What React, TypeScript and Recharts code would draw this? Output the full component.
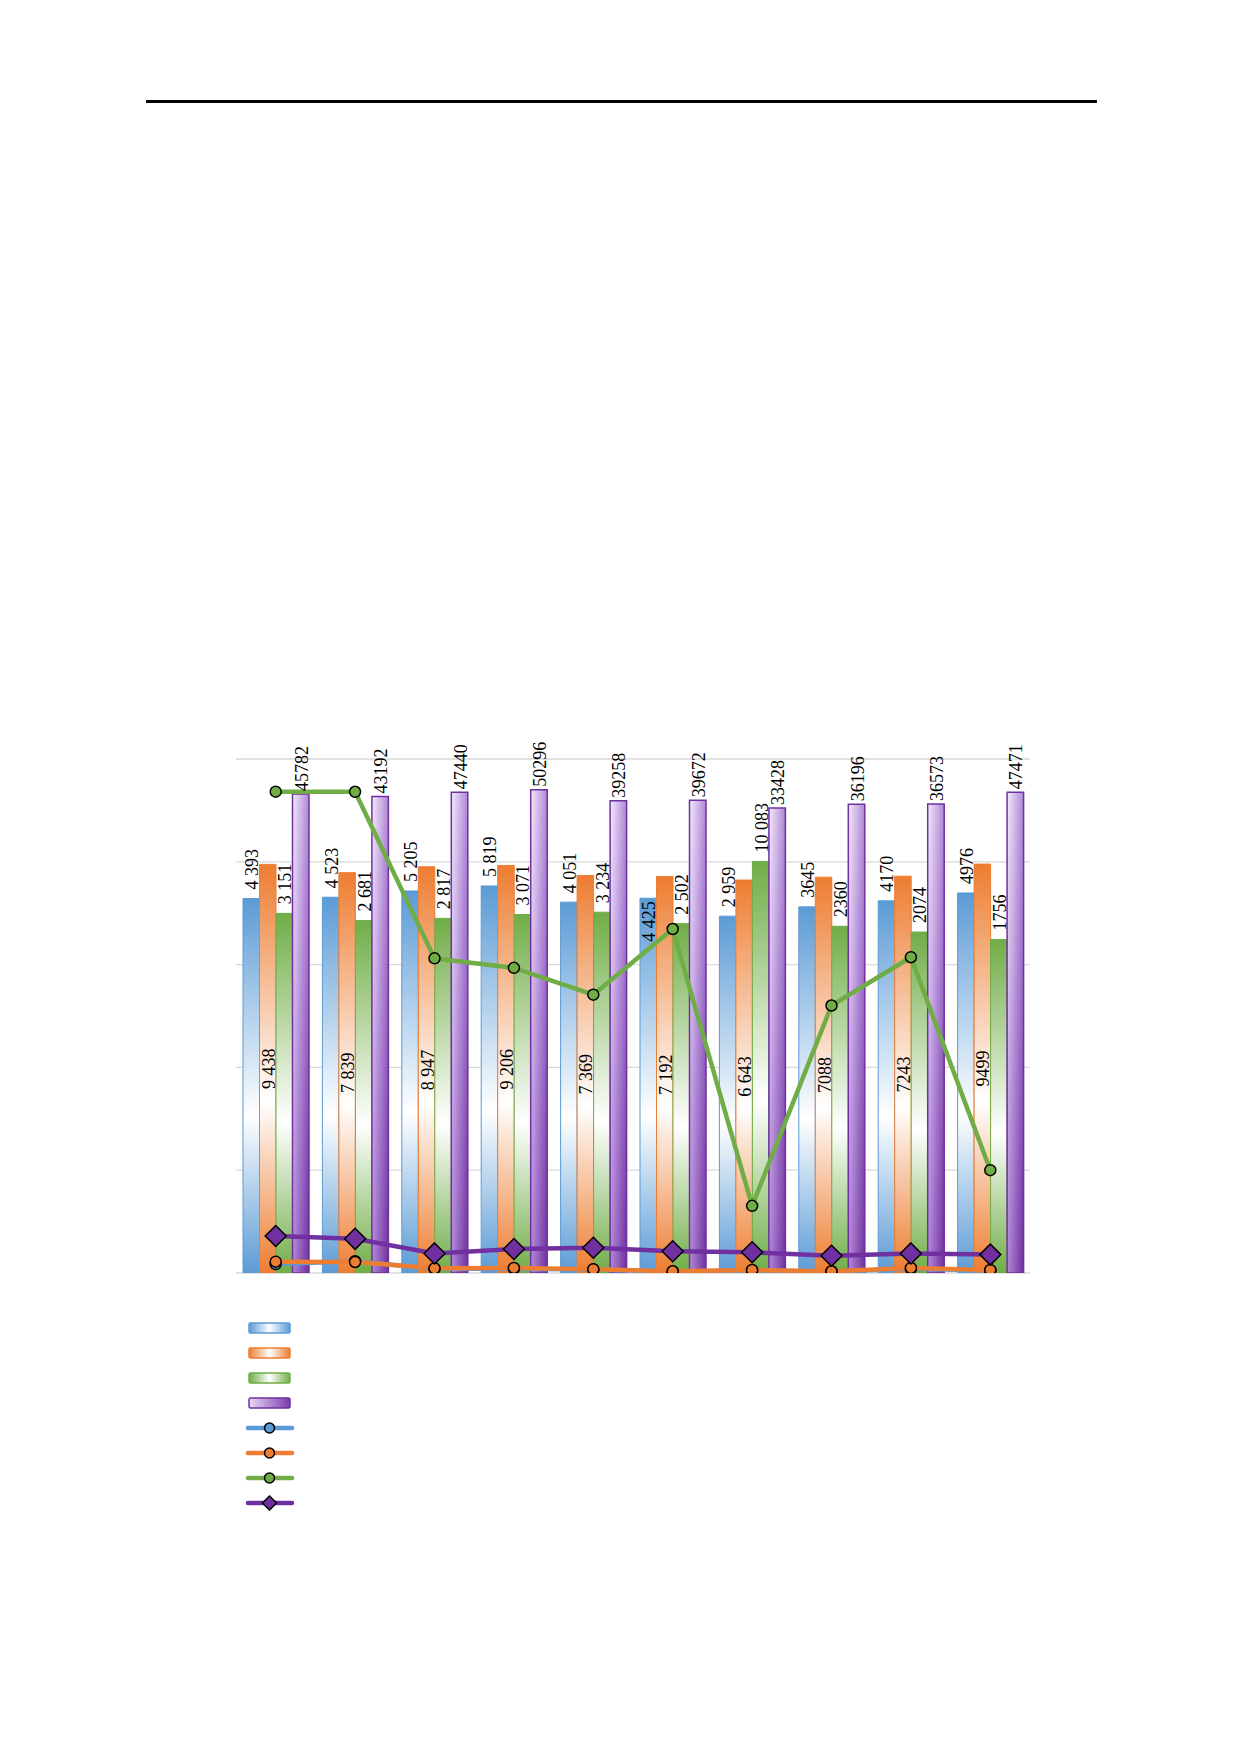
import React from 'react';
import { ComposedChart, Bar, Line, XAxis, YAxis, CartesianGrid, LabelList } from 'recharts';

const categories = ['1', '2', '3', '4', '5', '6', '7', '8', '9', '10'];

const blueBars = [4393, 4523, 5205, 5819, 4051, 4425, 2959, 3645, 4170, 4976];
const orangeBars = [9438, 7839, 8947, 9206, 7369, 7192, 6643, 7088, 7243, 9499];
const greenBars = [3151, 2681, 2817, 3071, 3234, 2502, 10083, 2360, 2074, 1756];
const purpleBars = [45782, 43192, 47440, 50296, 39258, 39672, 33428, 36196, 36573, 47471];

const blueLabels = ['4 393', '4 523', '5 205', '5 819', '4 051', '4 425', '2 959', '3645', '4170', '4976'];
const orangeLabels = ['9 438', '7 839', '8 947', '9 206', '7 369', '7 192', '6 643', '7088', '7243', '9499'];
const greenLabels = ['3 151', '2 681', '2 817', '3 071', '3 234', '2 502', '10 083', '2360', '2074', '1756'];
const purpleLabels = ['45782', '43192', '47440', '50296', '39258', '39672', '33428', '36196', '36573', '47471'];

const blueLine = [1.22, 1.3, 1.1, 1.1, 1.08, 1.03, 1.06, 1.03, 1.1, 1.06];
const orangeLine = [1.29, 1.28, 1.11, 1.12, 1.09, 1.04, 1.07, 1.04, 1.12, 1.07];
const greenLine = [48100, 48000, 1150, 930, 510, 2220, 4.5, 400, 1180, 10];
const purpleLine = [2.29, 2.15, 1.55, 1.71, 1.76, 1.63, 1.59, 1.47, 1.55, 1.51];

const yTicks = [1, 10, 100, 1000, 10000, 100000];

const data = categories.map((c, i) => ({
  cat: c,
  b1: blueBars[i],
  b2: orangeBars[i],
  b3: greenBars[i],
  b4: purpleBars[i],
  l1: blueLabels[i],
  l2: orangeLabels[i],
  l3: greenLabels[i],
  l4: purpleLabels[i],
  s1: blueLine[i],
  s2: orangeLine[i],
  s3: greenLine[i],
  s4: purpleLine[i],
}));

const BLUE = '#5B9BD5';
const ORANGE = '#ED7D31';
const GREEN = '#70AD47';
const PURPLE = '#7030A0';
const FONT = '"Liberation Serif", "Times New Roman", serif';
const FS = 18;

const makeTopLabel = (gap: number, insideIdx: number[] = []) => (props: any) => {
  const x = Number(props.x);
  const y = Number(props.y);
  const w = Number(props.width);
  const cx = x + w / 2 + 1;
  const inside = insideIdx.includes(props.index);
  const ty = inside ? y + 3 : y - gap;
  return (
    <text
      key={`t${props.index}-${gap}`}
      x={cx}
      y={ty}
      transform={`rotate(-90 ${cx} ${ty})`}
      textAnchor={inside ? 'end' : 'start'}
      dominantBaseline="central"
      fontFamily={FONT}
      fontSize={FS}
      fill="#000"
    >
      {props.value}
    </text>
  );
};

const centerLabel = (props: any) => {
  const x = Number(props.x);
  const y = Number(props.y);
  const w = Number(props.width);
  const h = Number(props.height);
  const cx = x + w / 2 + 1;
  const cy = y + h / 2;
  return (
    <text
      key={`c${props.index}`}
      x={cx}
      y={cy}
      transform={`rotate(-90 ${cx} ${cy})`}
      textAnchor="middle"
      dominantBaseline="central"
      fontFamily={FONT}
      fontSize={FS}
      fill="#000"
    >
      {props.value}
    </text>
  );
};

const Diamond = (props: any) => {
  const { cx, cy, index } = props;
  if (cx == null || cy == null) return <g key={`dd${index}`} />;
  const s = 10.5;
  return (
    <path
      key={`dd${index}`}
      d={`M${cx},${cy - s}L${cx + s},${cy}L${cx},${cy + s}L${cx - s},${cy}Z`}
      fill={PURPLE}
      stroke="#000"
      strokeWidth={1.5}
    />
  );
};

const circleDot = (fill: string) => ({ r: 5.5, fill, stroke: '#000', strokeWidth: 1.5 });

const gridYs = (props: any) => {
  const axis = props && props.yAxis;
  if (axis && typeof axis.scale === 'function') {
    const ys = yTicks.map((t) => Number(axis.scale(t)));
    if (ys.every((v) => isFinite(v))) return ys;
  }
  const top = props.offset.top;
  const h = props.offset.height;
  return yTicks.map((t) => top + h * (1 - Math.log10(t) / 5));
};

const Legend = () => {
  const rows = [
    { kind: 'bar', fill: 'url(#lgBlue)', stroke: BLUE },
    { kind: 'bar', fill: 'url(#lgOrange)', stroke: ORANGE },
    { kind: 'bar', fill: 'url(#lgGreen)', stroke: GREEN },
    { kind: 'bar', fill: 'url(#lgPurple)', stroke: PURPLE },
    { kind: 'line', color: BLUE },
    { kind: 'line', color: ORANGE },
    { kind: 'line', color: GREEN },
    { kind: 'diamond', color: PURPLE },
  ];
  const x0 = 19;
  const x1 = 60;
  return (
    <svg width={80} height={210} style={{ position: 'absolute', left: 230, top: 1310 }}>
      <defs>
        <linearGradient id="lgBlue" x1="0" y1="0" x2="1" y2="0">
          <stop offset="0" stopColor={BLUE} />
          <stop offset="0.5" stopColor="#fff" />
          <stop offset="1" stopColor={BLUE} />
        </linearGradient>
        <linearGradient id="lgOrange" x1="0" y1="0" x2="1" y2="0">
          <stop offset="0" stopColor={ORANGE} />
          <stop offset="0.5" stopColor="#fff" />
          <stop offset="1" stopColor={ORANGE} />
        </linearGradient>
        <linearGradient id="lgGreen" x1="0" y1="0" x2="1" y2="0">
          <stop offset="0" stopColor={GREEN} />
          <stop offset="0.5" stopColor="#fff" />
          <stop offset="1" stopColor={GREEN} />
        </linearGradient>
        <linearGradient id="lgPurple" x1="0" y1="0" x2="1" y2="0">
          <stop offset="0" stopColor="#E8DAF6" />
          <stop offset="1" stopColor="#7A3CB0" />
        </linearGradient>
      </defs>
      {rows.map((r, i) => {
        const cy = 18 + i * 25;
        if (r.kind === 'bar') {
          return (
            <rect key={i} x={x0} y={cy - 5} width={x1 - x0} height={10} rx={1.5} fill={r.fill} stroke={r.stroke} strokeWidth={1.5} />
          );
        }
        const mx = (x0 + x1) / 2;
        return (
          <g key={i}>
            <line x1={x0 - 1} y1={cy} x2={x1 + 2} y2={cy} stroke={r.color} strokeWidth={4.5} strokeLinecap="round" />
            {r.kind === 'line' ? (
              <circle cx={mx} cy={cy} r={5} fill={r.color} stroke="#000" strokeWidth={1.5} />
            ) : (
              <path d={`M${mx},${cy - 7}L${mx + 7},${cy}L${mx},${cy + 7}L${mx - 7},${cy}Z`} fill={r.color} stroke="#000" strokeWidth={1.5} />
            )}
          </g>
        );
      })}
    </svg>
  );
};

export default function App() {
  return (
    <div style={{ position: 'absolute', left: 0, top: 0, width: 1240, height: 1754, background: '#fff' }}>
      <div style={{ position: 'absolute', left: 146, top: 100, width: 951, height: 3, background: '#000' }} />
      <div style={{ position: 'absolute', left: 0, top: 0 }}>
        <ComposedChart
          width={1240}
          height={1600}
          data={data}
          margin={{ top: 759, right: 210, bottom: 327, left: 236 }}
          barGap={0}
        >
          <defs>
            <linearGradient id="gBlue" x1="0" y1="0" x2="0" y2="1">
              <stop offset="0" stopColor={BLUE} />
              <stop offset="0.58" stopColor="#fff" />
              <stop offset="1" stopColor={BLUE} />
            </linearGradient>
            <linearGradient id="gOrange" x1="0" y1="0" x2="0" y2="1">
              <stop offset="0" stopColor={ORANGE} />
              <stop offset="0.58" stopColor="#fff" />
              <stop offset="1" stopColor={ORANGE} />
            </linearGradient>
            <linearGradient id="gGreen" x1="0" y1="0" x2="0" y2="1">
              <stop offset="0" stopColor={GREEN} />
              <stop offset="0.58" stopColor="#fff" />
              <stop offset="1" stopColor={GREEN} />
            </linearGradient>
            <linearGradient id="gPurple" x1="0" y1="0" x2="1" y2="1">
              <stop offset="0" stopColor="#F3EAFB" />
              <stop offset="0.5" stopColor="#B088D6" />
              <stop offset="1" stopColor="#6E2E9E" />
            </linearGradient>
          </defs>
          <CartesianGrid vertical={false} stroke="#D9D9D9" strokeWidth={1.3} horizontalCoordinatesGenerator={gridYs} />
          <XAxis dataKey="cat" hide />
          <YAxis
            scale="log"
            domain={[1, 100000]}
            ticks={yTicks}
            allowDataOverflow
            width={0}
            tick={false}
            axisLine={false}
            tickLine={false}
          />
          <Bar dataKey="b1" barSize={16.5} fill="url(#gBlue)" stroke={BLUE} strokeWidth={1} isAnimationActive={false}>
            <LabelList dataKey="l1" content={makeTopLabel(9, [5])} />
          </Bar>
          <Bar dataKey="b2" barSize={16.5} fill="url(#gOrange)" stroke={ORANGE} strokeWidth={1} isAnimationActive={false}>
            <LabelList dataKey="l2" content={centerLabel} />
          </Bar>
          <Bar dataKey="b3" barSize={16.5} fill="url(#gGreen)" stroke={GREEN} strokeWidth={1} isAnimationActive={false}>
            <LabelList dataKey="l3" content={makeTopLabel(9)} />
          </Bar>
          <Bar dataKey="b4" barSize={16.5} fill="url(#gPurple)" stroke={PURPLE} strokeWidth={1.5} isAnimationActive={false}>
            <LabelList dataKey="l4" content={makeTopLabel(3)} />
          </Bar>
          <Line dataKey="s1" stroke={BLUE} strokeWidth={4.5} dot={circleDot(BLUE)} activeDot={false} isAnimationActive={false} />
          <Line dataKey="s2" stroke={ORANGE} strokeWidth={4.5} dot={circleDot(ORANGE)} activeDot={false} isAnimationActive={false} />
          <Line dataKey="s3" stroke={GREEN} strokeWidth={4.5} dot={circleDot(GREEN)} activeDot={false} isAnimationActive={false} />
          <Line dataKey="s4" stroke={PURPLE} strokeWidth={4.5} dot={Diamond} activeDot={false} isAnimationActive={false} />
        </ComposedChart>
      </div>
      <Legend />
    </div>
  );
}
